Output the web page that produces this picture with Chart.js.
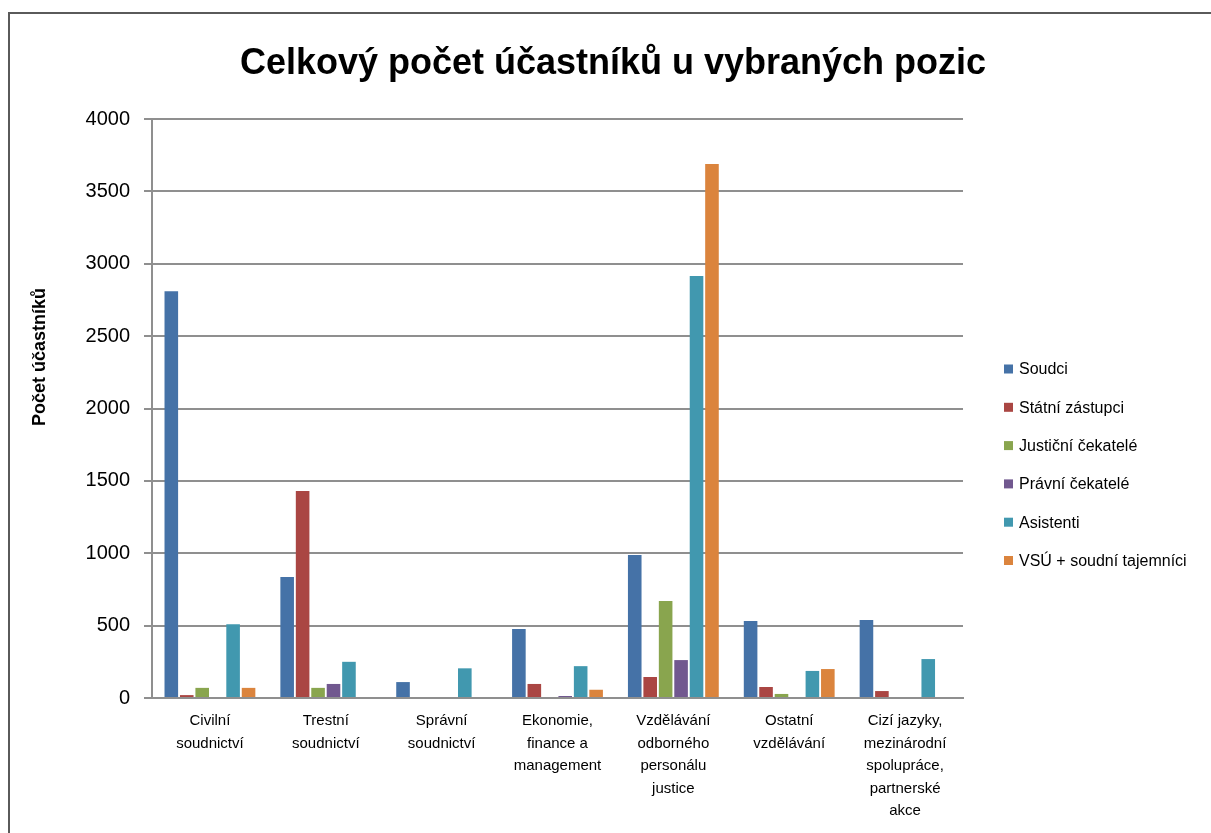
<!DOCTYPE html>
<html>
<head>
<meta charset="utf-8">
<script src="https://cdn.jsdelivr.net/npm/chart.js@4/dist/chart.umd.min.js"></script>
<style>
    html, body { margin: 0; padding: 0; background: #fff; overflow: hidden; }
    #frame { position: absolute; left: 8px; top: 12px; width: 1220px; height: 840px; border: 2px solid #5a5a5a; }
    #c { position: absolute; left: 0; top: 0; }
</style>
</head>
<body>
<div id="frame"></div>
<canvas id="c" width="1211" height="833"></canvas>
<script>
let categories = [
    ['Civilní', 'soudnictví'],
    ['Trestní', 'soudnictví'],
    ['Správní', 'soudnictví'],
    ['Ekonomie,', 'finance a', 'management'],
    ['Vzdělávání', 'odborného', 'personálu', 'justice'],
    ['Ostatní', 'vzdělávání'],
    ['Cizí jazyky,', 'mezinárodní', 'spolupráce,', 'partnerské', 'akce']
];
let series_names = ['Soudci', 'Státní zástupci', 'Justiční čekatelé', 'Právní čekatelé', 'Asistenti', 'VSÚ + soudní tajemníci'];
let series_colors = ['#4572A7', '#AA4643', '#89A54E', '#71588F', '#4198AF', '#DB843D'];

let soudci = [2810, 836, 110, 477, 988, 532, 539];
let statni_zastupci = [20, 1430, 0, 97, 145, 76, 48];
let justicni_cekatele = [70, 70, 0, 0, 670, 28, 0];
let pravni_cekatele = [0, 97, 0, 14, 262, 0, 0];
let asistenti = [510, 250, 205, 220, 2915, 187, 269];
let vsu = [70, 0, 0, 57, 3689, 200, 0];

let y_ticks = [0, 500, 1000, 1500, 2000, 2500, 3000, 3500, 4000];
let title_text = 'Celkový počet účastníků u vybraných pozic';
let y_title = 'Počet účastníků';

let all_series = [soudci, statni_zastupci, justicni_cekatele, pravni_cekatele, asistenti, vsu];
let font_family = "'Liberation Sans', Arial, sans-serif";

// title, y axis title and legend are placed by hand, like in the original sheet
let side_plugin = {
    id: 'side',
    afterDraw: function(chart) {
        let ctx = chart.ctx;
        ctx.save();
        ctx.fillStyle = '#000';
        ctx.font = 'bold 36px ' + font_family;
        ctx.textAlign = 'center';
        ctx.textBaseline = 'middle';
        ctx.fillText(title_text, 613, 64);
        ctx.restore();

        ctx.save();
        ctx.fillStyle = '#000';
        ctx.font = 'bold 18px ' + font_family;
        ctx.textAlign = 'center';
        ctx.textBaseline = 'middle';
        ctx.translate(40, 357);
        ctx.rotate(-Math.PI / 2);
        ctx.fillText(y_title, 0, 0);
        ctx.restore();

        ctx.save();
        ctx.font = '16px ' + font_family;
        ctx.textBaseline = 'middle';
        ctx.textAlign = 'left';
        chart.data.datasets.forEach((ds, i) => {
            let y = 369 + i * 38.3;
            ctx.fillStyle = ds.backgroundColor;
            ctx.fillRect(1004, y - 4.5, 9, 9);
            ctx.fillStyle = '#000';
            ctx.fillText(ds.label, 1019, y + 1);
        });
        ctx.restore();
    }
};

let ctx = document.getElementById('c').getContext('2d');
let chart = new Chart(ctx, {
    type: 'bar',
    data: {
        labels: categories,
        datasets: all_series.map((d, i) => ({
            label: series_names[i],
            data: d,
            backgroundColor: series_colors[i],
            borderWidth: 0,
            barPercentage: 0.88,
            categoryPercentage: 0.8
        }))
    },
    options: {
        responsive: false,
        animation: false,
        layout: { padding: { left: 0, right: 248, top: 119, bottom: 0 } },
        font: { family: font_family },
        plugins: {
            legend: { display: false },
            tooltip: { enabled: false },
            title: { display: false }
        },
        scales: {
            x: {
                grid: { display: false, drawTicks: false },
                border: { display: true, color: '#8f8f8f', width: 2 },
                ticks: {
                    color: '#000',
                    font: { family: font_family, size: 15, lineHeight: 1.5 },
                    padding: 12,
                    maxRotation: 0,
                    autoSkip: false
                },
                afterFit: function(s) { s.height = 135; }
            },
            y: {
                min: 0,
                max: 4000,
                afterBuildTicks: function(s) { s.ticks = y_ticks.map(v => ({ value: v })); },
                grid: { color: '#8f8f8f', lineWidth: 2, tickLength: 8 },
                border: { display: true, color: '#8f8f8f', width: 2 },
                ticks: {
                    color: '#000',
                    font: { family: font_family, size: 20 },
                    padding: 14,
                    callback: v => String(v)
                },
                afterFit: function(s) { s.width = 152; }
            }
        }
    },
    plugins: [side_plugin]
});
</script>
</body>
</html>
